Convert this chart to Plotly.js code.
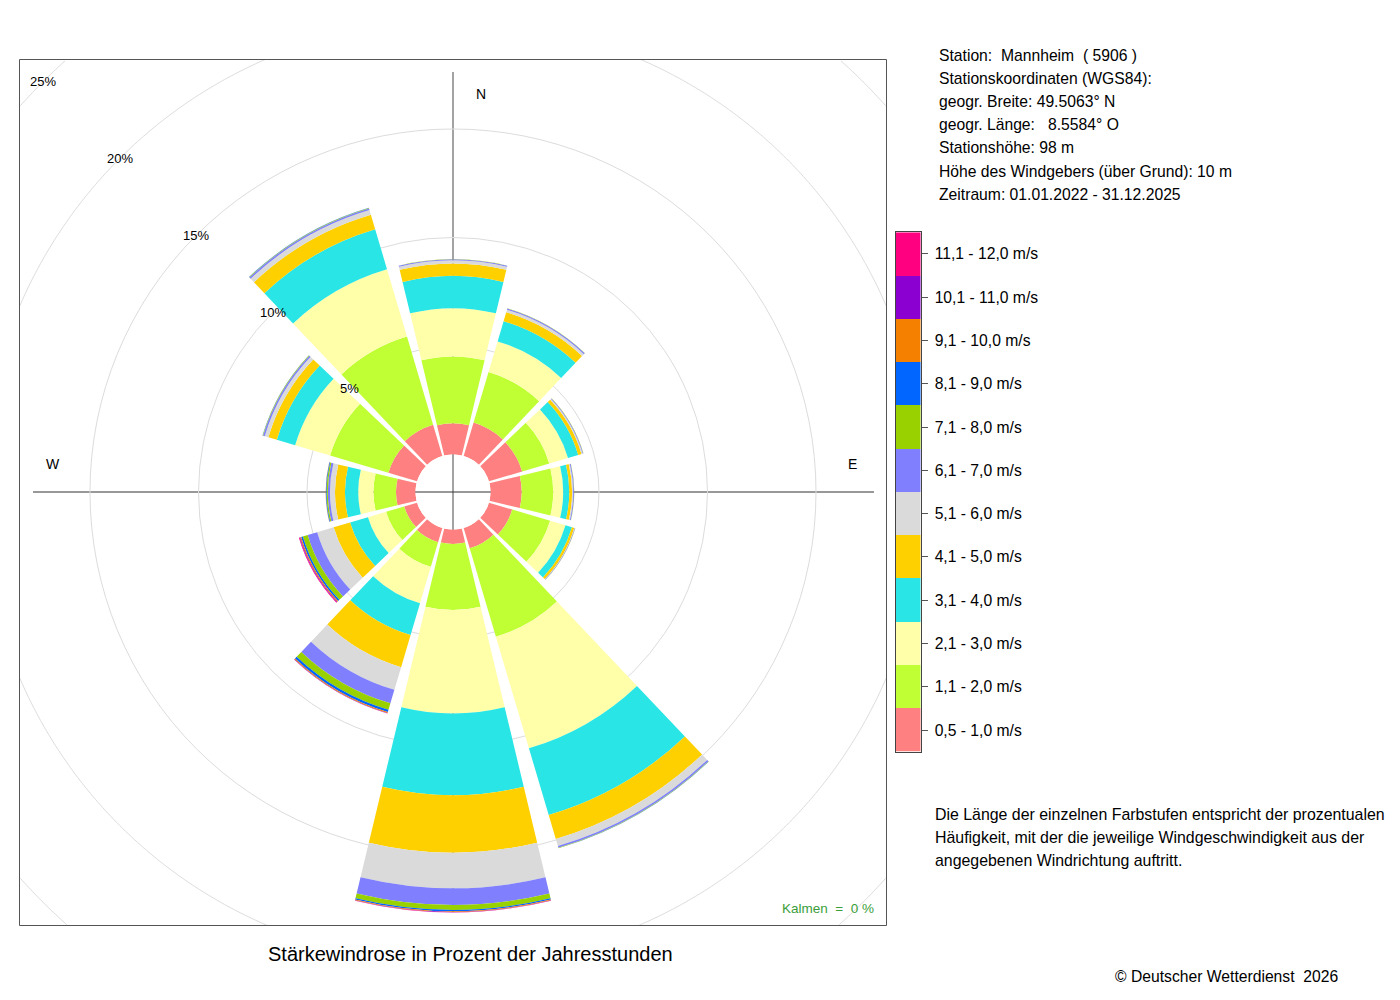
<!DOCTYPE html>
<html>
<head>
<meta charset="utf-8">
<script src="https://cdn.plot.ly/plotly-3.0.1.min.js"></script>
<style>html,body{margin:0;padding:0;background:#fff;}#chart{width:1400px;height:1000px;}</style>
</head>
<body>
<div id="chart"></div>
<script>
// ---------------- data ----------------
const directions = [0, 30, 60, 90, 120, 150, 180, 210, 240, 270, 300, 330];
const speedLabels = ['0,5 - 1,0 m/s','1,1 - 2,0 m/s','2,1 - 3,0 m/s','3,1 - 4,0 m/s','4,1 - 5,0 m/s','5,1 - 6,0 m/s',
                     '6,1 - 7,0 m/s','7,1 - 8,0 m/s','8,1 - 9,0 m/s','9,1 - 10,0 m/s','10,1 - 11,0 m/s','11,1 - 12,0 m/s'];
const speedColors = ['#FF8080','#BFFF33','#FFFFAA','#2AE5E5','#FFD000','#DADADA',
                     '#8080FF','#98D000','#0066FF','#F58000','#8B00D0','#FF0080'];
const s05_10  = [1.44, 1.61, 1.60, 1.44, 1.12, 0.98, 0.67, 0.69, 0.62, 0.90, 1.38, 1.50];
const s11_20  = [3.07, 2.43, 1.30, 1.45, 1.82, 4.25, 3.04, 1.18, 0.87, 1.04, 2.80, 4.24];
const s21_30  = [2.23, 1.47, 0.90, 0.46, 0.74, 5.36, 4.76, 1.75, 0.87, 0.70, 1.68, 3.24];
const s31_40  = [1.49, 0.97, 0.49, 0.28, 0.31, 3.21, 3.77, 1.53, 0.86, 0.61, 0.88, 1.92];
const s41_50  = [0.57, 0.43, 0.16, 0.13, 0.11, 1.15, 2.65, 1.54, 0.79, 0.46, 0.41, 0.70];
const s51_60  = [0.15, 0.12, 0.05, 0.05, 0.02, 0.34, 1.64, 1.09, 0.79, 0.23, 0.17, 0.22];
const s61_70  = [0.04, 0.06, 0.03, 0.04, 0.02, 0.08, 0.77, 0.65, 0.46, 0.10, 0.08, 0.08];
const s71_80  = [0.01, 0.01, 0.01, 0.01, 0.01, 0.02, 0.23, 0.31, 0.23, 0.06, 0.02, 0.02];
const s81_90  = [0.00, 0.00, 0.00, 0.00, 0.00, 0.01, 0.05, 0.11, 0.08, 0.03, 0.01, 0.01];
const s91_100 = [0.00, 0.00, 0.00, 0.00, 0.00, 0.00, 0.04, 0.04, 0.05, 0.01, 0.00, 0.00];
const s101_110= [0.00, 0.00, 0.00, 0.00, 0.00, 0.00, 0.01, 0.02, 0.03, 0.00, 0.00, 0.00];
const s111_120= [0.00, 0.00, 0.00, 0.00, 0.00, 0.00, 0.01, 0.01, 0.03, 0.00, 0.00, 0.00];
const ringValues = [5, 10, 15, 20, 25];
const compassLabels = ['N', 'W', 'E'];
const stationLines = ['Station:\u00a0 Mannheim\u00a0 ( 5906 )', 'Stationskoordinaten (WGS84):',
  'geogr. Breite: 49.5063° N', 'geogr. Länge:\u00a0\u00a0 8.5584° O', 'Stationshöhe: 98 m',
  'Höhe des Windgebers (über Grund): 10 m', 'Zeitraum: 01.01.2022 - 31.12.2025'];
const noteLines = ['Die Länge der einzelnen Farbstufen entspricht der prozentualen',
  'Häufigkeit, mit der die jeweilige Windgeschwindigkeit aus der',
  'angegebenen Windrichtung auftritt.'];
const titleText = 'Stärkewindrose in Prozent der Jahresstunden';
const calmText = 'Kalmen\u00a0 =\u00a0 0 %';
const copyrightText = '© Deutscher Wetterdienst\u00a0 2026';

// ---------------- geometry (layout only) ----------------
const W = 1400, H = 1000;
const cx = 453, cy = 492;            // rose centre in px
const holePx = 37.5, pxPerPct = 21.7; // radial scale
const rMax = 18.2;
const outerPx = holePx + pxPerPct * rMax;
const box = {x0: 19.5, y0: 59.5, x1: 886.5, y1: 925.5};
const FONT = 'Liberation Sans, Arial, sans-serif';
const ringColor = '#DCDCDC';
const radPx = p => holePx + pxPerPct * p;

const seriesList = [s05_10, s11_20, s21_30, s31_40, s41_50, s51_60, s61_70, s71_80, s81_90, s91_100, s101_110, s111_120];

const traces = seriesList.map((vals, i) => ({
  type: 'barpolar', subplot: 'polar', name: speedLabels[i],
  theta: directions, r: vals, width: 27,
  marker: {color: speedColors[i], line: {width: 0}},
  hoverinfo: 'skip', showlegend: false
}));

// legend as a small heatmap
const legendZ = speedLabels.map((_, i) => [i]);
const legendScale = [];
speedColors.forEach((c, i) => { legendScale.push([i / 12, c]); legendScale.push([(i + 1) / 12, c]); });
traces.push({
  type: 'heatmap', xaxis: 'x2', yaxis: 'y2', z: legendZ, x: [0], y: speedLabels,
  colorscale: legendScale, zmin: -0.5, zmax: 11.5, showscale: false, hoverinfo: 'skip'
});

// outer rings (20 %, 25 %) clipped to the box
function clippedRing(p) {
  const R = radPx(p);
  let path = '', open = false;
  for (let k = 0; k <= 1440; k++) {
    const a = k / 1440 * 2 * Math.PI;
    const x = cx + R * Math.cos(a), y = cy + R * Math.sin(a);
    const inside = x >= box.x0 && x <= box.x1 && y >= box.y0 && y <= box.y1;
    if (inside) { path += (open ? ' L ' : ' M ') + x.toFixed(2) + ' ' + y.toFixed(2); open = true; }
    else open = false;
  }
  return path;
}

const shapes = [];
ringValues.filter(p => radPx(p) > outerPx).forEach(p => {
  shapes.push({type: 'path', xref: 'x', yref: 'y', path: clippedRing(p), line: {color: ringColor, width: 1}, layer: 'below'});
});
// compass lines
shapes.push({type: 'line', xref: 'x', yref: 'y', x0: cx, x1: cx, y0: cy - 420, y1: cy + 420, line: {color: '#666', width: 1.2}, layer: 'below'});
shapes.push({type: 'line', xref: 'x', yref: 'y', x0: cx - 420, x1: cx + 421, y0: cy, y1: cy, line: {color: '#333', width: 1}, layer: 'below'});
// frame
shapes.push({type: 'rect', xref: 'x', yref: 'y', x0: box.x0, x1: box.x1, y0: box.y0, y1: box.y1, line: {color: '#555', width: 1}, layer: 'below'});

const annotations = [];
const ann = (x, y, text, size, xanchor, color) => annotations.push({
  xref: 'x', yref: 'y', x, y, text, showarrow: false, xanchor: xanchor || 'left', yanchor: 'middle',
  borderpad: 0, font: {family: FONT, size, color: color || '#000'}
});
ringValues.forEach(p => {
  const r = radPx(p) / Math.SQRT2;
  ann(cx - r, cy - r, p + '%', 13, 'center');
});
ann(cx + 28, cy - 398, compassLabels[0], 14, 'center');
ann(cx - 400, cy - 28, compassLabels[1], 14, 'center');
ann(cx + 399, cy - 28, compassLabels[2], 14, 'center');
stationLines.forEach((t, i) => ann(938, 55 + i * 23.2, t, 15.7, 'left'));
noteLines.forEach((t, i) => ann(934, 814 + i * 23, t, 15.9, 'left'));
ann(470, 954, titleText, 20, 'center');
ann(875, 908, calmText, 13.5, 'right', '#3A9E3A');
ann(1114, 976, copyrightText, 15.7, 'left');

const layout = {
  width: W, height: H, margin: {l: 0, r: 0, t: 0, b: 0, pad: 0},
  paper_bgcolor: '#fff', plot_bgcolor: 'rgba(0,0,0,0)', showlegend: false, hovermode: false,
  xaxis: {range: [0, W], domain: [0, 1], visible: false, fixedrange: true},
  yaxis: {range: [H, 0], domain: [0, 1], visible: false, fixedrange: true},
  xaxis2: {domain: [896 / W, 920.5 / W], anchor: 'y2', showticklabels: false, ticks: '', showgrid: false,
           zeroline: false, showline: true, mirror: true, linecolor: '#444', linewidth: 1, fixedrange: true},
  yaxis2: {domain: [1 - 751.7 / H, 1 - 232.3 / H], anchor: 'x2', side: 'right', type: 'category',
           ticks: 'outside', ticklen: 6, tickcolor: '#555', tickwidth: 1, showgrid: false, zeroline: false,
           showline: true, mirror: true, linecolor: '#444', linewidth: 1, ticklabelstandoff: 4,
           tickfont: {family: FONT, size: 15.7, color: '#000'}, fixedrange: true},
  polar: {
    domain: {x: [(cx - outerPx) / W, (cx + outerPx) / W], y: [1 - (cy + outerPx) / H, 1 - (cy - outerPx) / H]},
    hole: holePx / outerPx, bgcolor: 'rgba(0,0,0,0)', barmode: 'stack', bargap: 0,
    radialaxis: {range: [0, rMax], tickvals: [0].concat(ringValues.filter(p => p < rMax)), showticklabels: false, ticks: '',
                 showline: false, gridcolor: ringColor, gridwidth: 1, layer: 'below traces'},
    angularaxis: {rotation: 90, direction: 'clockwise', showticklabels: false, ticks: '', showgrid: false,
                  showline: false, layer: 'below traces'}
  },
  shapes, annotations
};

Plotly.newPlot('chart', traces, layout, {staticPlot: true, displayModeBar: false});
</script>
</body>
</html>
